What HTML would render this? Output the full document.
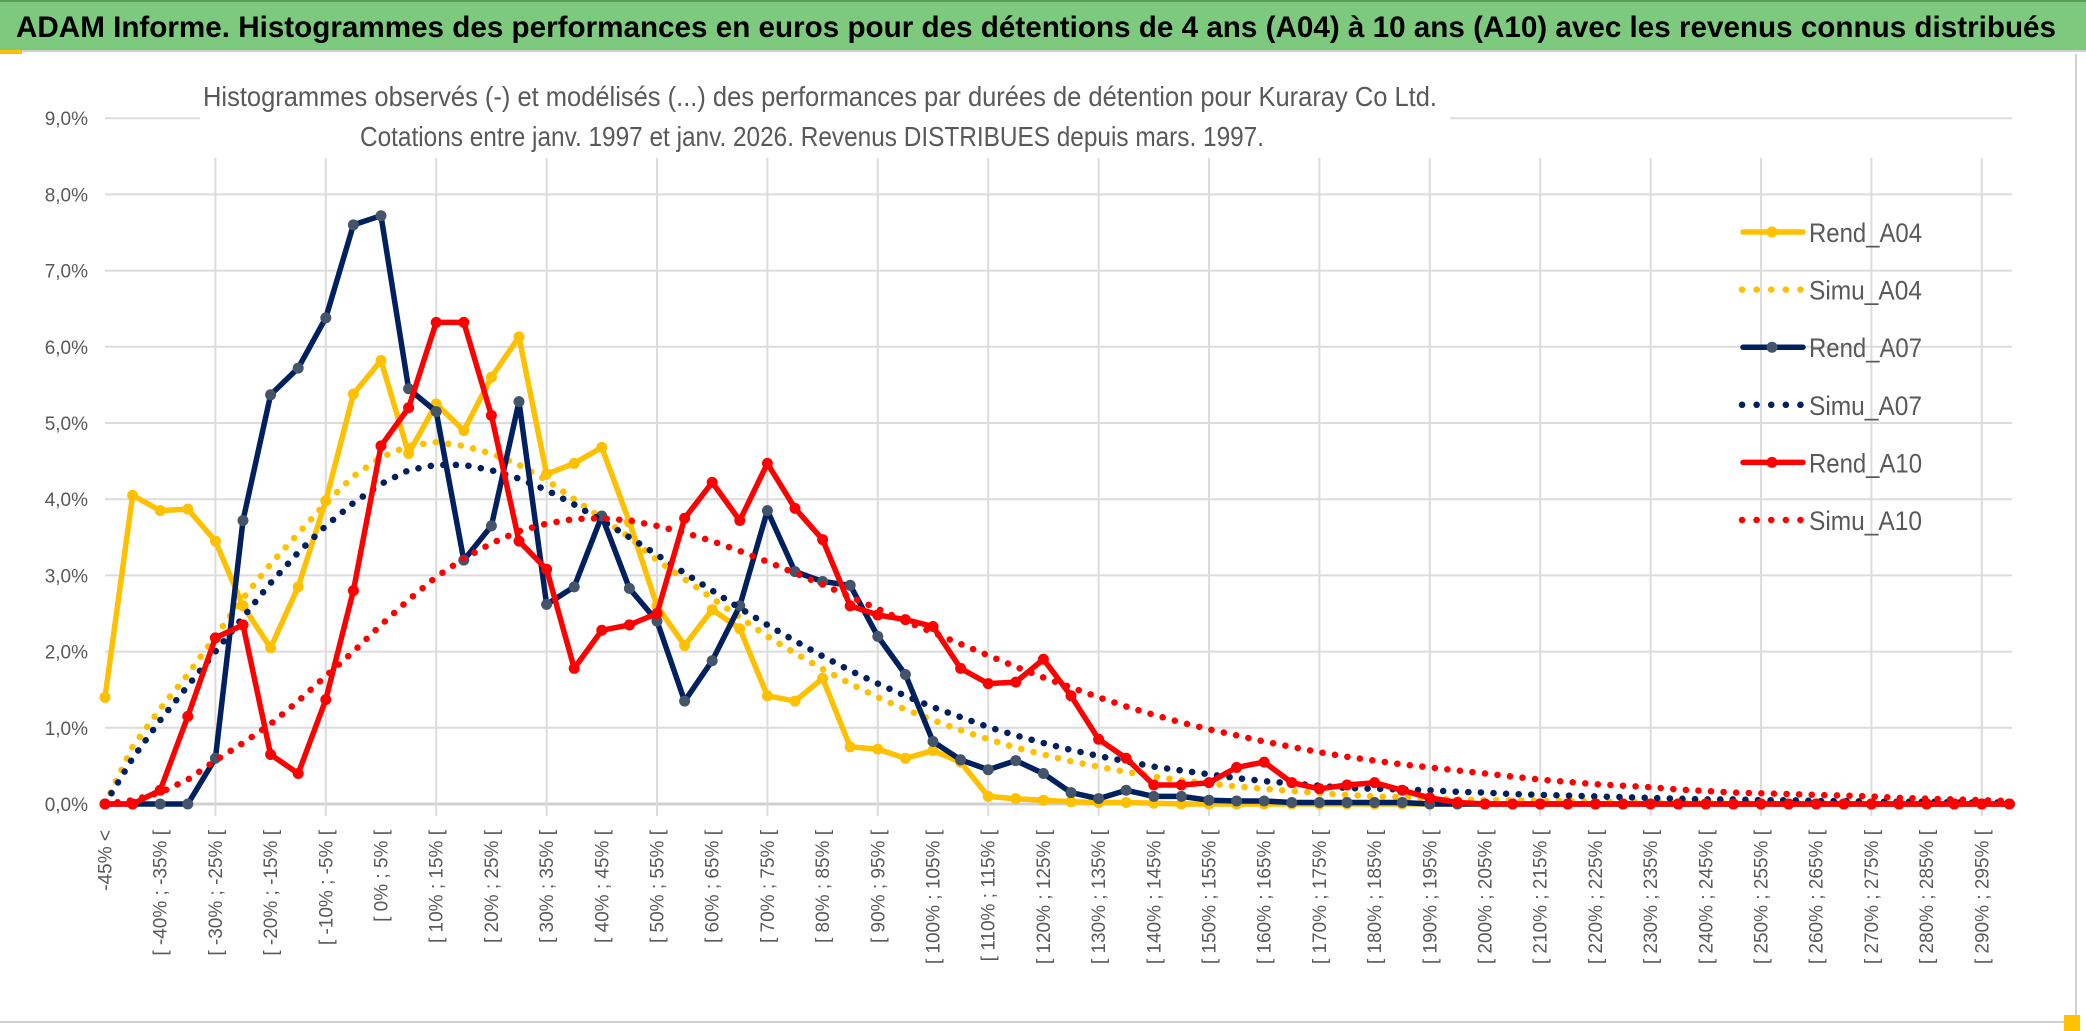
<!DOCTYPE html>
<html><head><meta charset="utf-8"><style>
html,body{margin:0;padding:0;background:#fff;}
svg{display:block;font-family:"Liberation Sans",sans-serif;}
</style></head><body>
<svg id="chart" width="2086" height="1031" viewBox="0 0 2086 1031" xmlns="http://www.w3.org/2000/svg">
  <rect x="0" y="0" width="2086" height="1031" fill="#fff"/>
  <rect x="0" y="0" width="2086" height="50" fill="#7DC97D"/>
  <line x1="0" y1="1" x2="2086" y2="1" stroke="#5a9e5a" stroke-width="2"/>
  <line x1="0" y1="51" x2="2086" y2="51" stroke="#d0d0d0" stroke-width="2"/>
  <text x="16" y="37" font-size="30" font-weight="bold" fill="#000" textLength="2040" lengthAdjust="spacingAndGlyphs">ADAM Informe. Histogrammes des performances en euros pour des détentions de 4 ans (A04) à 10 ans (A10) avec les revenus connus distribués</text>
  <rect x="0" y="50" width="22" height="4" fill="#FFC000"/>
  <line x1="2076" y1="54" x2="2076" y2="1022" stroke="#d0d0d0" stroke-width="2"/>
  <line x1="0" y1="1022" x2="2076" y2="1022" stroke="#d0d0d0" stroke-width="2"/>
  <rect x="2064" y="1015" width="16" height="16" fill="#FFC000"/>
  <g id="grid"></g>
  <g id="yaxis"></g>
  <g id="xaxis"></g>
  <rect x="200" y="70" width="1250" height="88" fill="#fff"/>
  <text x="203" y="106" font-size="28" fill="#595959" textLength="1234" lengthAdjust="spacingAndGlyphs">Histogrammes observés (-) et modélisés (...) des performances par durées de détention pour Kuraray Co Ltd.</text>
  <text x="360" y="146" font-size="28" fill="#595959" textLength="904" lengthAdjust="spacingAndGlyphs">Cotations entre janv. 1997 et janv. 2026. Revenus DISTRIBUES depuis mars. 1997.</text>
  <g id="series"></g>
  <g id="legend"></g>
</svg>
<script>
const rendA04=[1.4,4.05,3.85,3.87,3.45,2.6,2.05,2.85,3.98,5.38,5.82,4.6,5.25,4.9,5.6,6.13,4.33,4.47,4.68,3.7,2.6,2.08,2.55,2.3,1.42,1.35,1.65,0.75,0.72,0.6,0.7,0.55,0.1,0.07,0.05,0.03,0.02,0.02,0.01,0,0,0,0,0,0,0,0,0,0,0,0,0,0,0,0,0,0,0,0,0,0,0,0,0,0,0,0,0,0,0];
const simuA04=[0,0.75,1.25,1.7,2.2,2.7,3.15,3.55,3.95,4.3,4.55,4.7,4.75,4.7,4.6,4.45,4.25,4.0,3.75,3.5,3.2,2.95,2.7,2.45,2.2,1.98,1.77,1.58,1.4,1.24,1.1,0.97,0.85,0.74,0.65,0.56,0.49,0.42,0.36,0.31,0.27,0.23,0.2,0.17,0.14,0.12,0.1,0.09,0.07,0.06,0.05,0.05,0.04,0.04,0.03,0.03,0.02,0.02,0.02,0.02,0.01,0.01,0.01,0.01,0.01,0.01,0.01,0.01,0.01,0.01];
const rendA07=[0,0,0,0,0.6,3.72,5.37,5.72,6.38,7.6,7.72,5.45,5.15,3.2,3.65,5.28,2.62,2.85,3.78,2.83,2.4,1.35,1.88,2.6,3.85,3.05,2.92,2.87,2.2,1.7,0.82,0.58,0.45,0.57,0.4,0.15,0.07,0.18,0.1,0.1,0.05,0.04,0.04,0.02,0.02,0.02,0.02,0.02,0,0,0,0,0,0,0,0,0,0,0,0,0,0,0,0,0,0,0,0,0,0];
const simuA07=[0,0.6,1.1,1.55,2.0,2.45,2.9,3.3,3.65,3.95,4.2,4.38,4.45,4.45,4.38,4.27,4.12,3.93,3.72,3.5,3.27,3.03,2.8,2.57,2.35,2.14,1.94,1.75,1.58,1.42,1.27,1.14,1.01,0.9,0.8,0.71,0.63,0.56,0.49,0.44,0.39,0.34,0.3,0.27,0.24,0.21,0.2,0.19,0.18,0.16,0.15,0.13,0.12,0.11,0.1,0.09,0.08,0.07,0.06,0.06,0.05,0.05,0.04,0.04,0.03,0.03,0.03,0.02,0.02,0.02];
const rendA10=[0,0,0.18,1.15,2.18,2.35,0.65,0.4,1.37,2.8,4.7,5.2,6.32,6.32,5.1,3.45,3.08,1.78,2.28,2.35,2.5,3.75,4.22,3.72,4.47,3.88,3.47,2.6,2.48,2.42,2.33,1.78,1.58,1.6,1.9,1.42,0.85,0.6,0.25,0.25,0.28,0.48,0.55,0.28,0.2,0.25,0.28,0.18,0.08,0.02,0,0,0,0,0,0,0,0,0,0,0,0,0,0,0,0,0,0,0,0];
const simuA10=[0,0.05,0.15,0.32,0.57,0.8,1.05,1.35,1.68,2.0,2.35,2.68,2.98,3.22,3.42,3.58,3.68,3.74,3.75,3.72,3.65,3.56,3.45,3.32,3.18,3.03,2.88,2.72,2.56,2.4,2.25,2.1,1.95,1.8,1.66,1.53,1.4,1.28,1.17,1.07,0.98,0.9,0.82,0.75,0.68,0.62,0.57,0.52,0.48,0.44,0.4,0.36,0.32,0.29,0.26,0.24,0.22,0.19,0.17,0.15,0.14,0.13,0.12,0.11,0.1,0.08,0.07,0.06,0.05,0.04];
const yTicks=[0,1,2,3,4,5,6,7,8,9];
const categoryStarts=[];
for(let s=-45;s<300;s+=5){categoryStarts.push(s);}

const NS="http://www.w3.org/2000/svg";
const X0=105, DX=27.6, Y0=804, DY=76.2;
const xs=i=>X0+i*DX;
const ys=v=>Y0-v*DY;
function el(tag,attrs,parent){const e=document.createElementNS(NS,tag);for(const k in attrs)e.setAttribute(k,attrs[k]);parent.appendChild(e);return e;}
const nCat=categoryStarts.length+1;
function catLabel(i){if(i===0)return "-45% <";const s=categoryStarts[i-1];return "[ "+s+"% ; "+(s+5)+"% [";}

const grid=document.getElementById('grid');
yTicks.forEach(t=>{
  const l=el('line',{x1:X0,x2:2012,y1:ys(t),y2:ys(t),stroke:t===0?'#d0d0d0':'#dcdcdc','stroke-width':t===0?3:2},grid);
  
  
});
for(let i=4;i<nCat;i+=4){
  const l=el('line',{x1:xs(i),x2:xs(i),y1:158,y2:Y0+12,stroke:'#dcdcdc','stroke-width':2},grid);
  
  
}
const yaxis=document.getElementById('yaxis');
yTicks.forEach(t=>{
  const tx=el('text',{x:88,y:ys(t)+7,'text-anchor':'end','font-size':19,fill:'#595959'},yaxis);
  tx.textContent=t.toFixed(1).replace('.',',')+'%';
  
  
});
const xaxis=document.getElementById('xaxis');
for(let i=0;i<nCat;i+=2){
  const x=xs(i)+1, y=830;
  const tx=el('text',{x:x,y:y,'text-anchor':'end','dominant-baseline':'central','font-size':19,fill:'#595959',transform:'rotate(-90 '+x+' '+y+')'},xaxis);
  tx.textContent=catLabel(i);
  
  
}
const series=document.getElementById('series');
function pts(arr){return arr.map((v,i)=>xs(i).toFixed(1)+','+ys(v).toFixed(1)).join(' ');}
function solid(arr,color,mcolor,name){
  const g=el('g',{},series);
  
  
  el('polyline',{points:pts(arr),fill:'none',stroke:color,'stroke-width':5.5,'stroke-linejoin':'round','stroke-linecap':'round'},g);
  arr.forEach((v,i)=>{
    const c=el('circle',{cx:xs(i),cy:ys(v),r:5.5,fill:mcolor},g);
    
    
  });
}
function dotted(arr,color,name){
  const p=el('polyline',{points:pts(arr),fill:'none',stroke:color,'stroke-width':6.5,'stroke-linecap':'round','stroke-dasharray':'0.1 12.5'},series);
  
  
}
solid(rendA04,'#FFC000','#FFC000','rend-a04-line');
dotted(simuA04,'#FFC000','simu-a04-line');
solid(rendA07,'#002060','#44546A','rend-a07-line');
dotted(simuA07,'#002060','simu-a07-line');
solid(rendA10,'#FF0000','#FF0000','rend-a10-line');
dotted(simuA10,'#FF0000','simu-a10-line');

const legend=document.getElementById('legend');
const legItems=[['Rend_A04','#FFC000','#FFC000',false],['Simu_A04','#FFC000','',true],['Rend_A07','#002060','#44546A',false],['Simu_A07','#002060','',true],['Rend_A10','#FF0000','#FF0000',false],['Simu_A10','#FF0000','',true]];
legItems.forEach((it,k)=>{
  const y=232+k*57.6;
  const g=el('g',{},legend);
  
  
  if(it[3]){
    el('line',{x1:1742,x2:1802,y1:y,y2:y,stroke:it[1],'stroke-width':6.5,'stroke-linecap':'round','stroke-dasharray':'0.1 14.5'},g);
  } else {
    el('line',{x1:1743,x2:1803,y1:y,y2:y,stroke:it[1],'stroke-width':5.5,'stroke-linecap':'round'},g);
    el('circle',{cx:1772,cy:y,r:5.5,fill:it[2]},g);
  }
  const t=el('text',{x:1809,y:y+10,'font-size':27,fill:'#595959',textLength:113,lengthAdjust:'spacingAndGlyphs'},g);
  t.textContent=it[0];
});
</script>
</body></html>
